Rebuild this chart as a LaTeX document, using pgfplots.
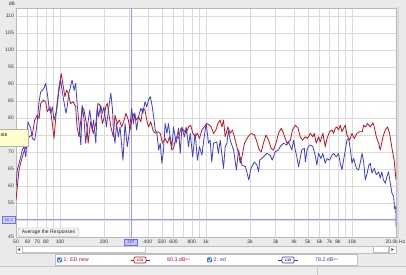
\documentclass[border=0pt]{standalone}
\usepackage{pgfplots}
\pgfplotsset{compat=1.18}
\usepackage{pgfplotstable}
\usepackage{fontspec}
\setmainfont{Liberation Sans}
\definecolor{bgc}{RGB}{234,234,234}
\definecolor{redc}{RGB}{200,16,24}
\definecolor{bluec}{RGB}{62,62,205}
\definecolor{curc}{RGB}{110,110,250}
\definecolor{curl}{RGB}{150,150,255}
\definecolor{gridc}{RGB}{218,218,218}
\definecolor{tipc}{RGB}{255,255,204}
\definecolor{chk}{RGB}{64,128,224}
\newcommand{\tf}{\fontsize{5}{6}\selectfont}
\newcommand{\lf}{\fontsize{5.3}{6}\selectfont}

\pgfplotstableread{
f db
50 55.9
52.4 64.7
55.2 68.6
58.3 71.6
61.4 74.5
64.7 75.0
67.1 79.4
69.9 80.9
71.9 79.9
73.8 84.3
76.9 85.3
79.8 84.8
81.9 81.9
85.5 83.3
88.7 78.4
91.0 74.0
95.0 83.3
98.5 89.2
102 93.1
105 89.7
108 86.3
111 88.2
114 87.3
118 84.3
123 84.8
128 83.3
131 77.4
135 74.5
139 79.4
142 83.3
146 82.4
153 77.4
156 72.6
162 78.9
169 75.5
176 78.4
182 84.3
188 83.8
195 78.4
200 79.9
206 83.3
211 84.3
223 77.4
232 74.5
238 80.9
247 78.4
255 79.4
265 77.4
275 79.4
283 81.4
294 79.4
302 76.5
310 79.4
322 81.4
332 79.4
345 80.4
358 78.9
370 82.9
382 82.4
393 79.4
404 77.4
419 78.9
433 76.5
449 75.5
466 76.0
486 75.5
503 72.6
525 74.0
545 72.6
562 74.5
584 70.6
599 71.1
624 74.5
648 74.0
674 77.0
701 76.5
732 75.5
759 77.4
786 77.9
813 75.5
843 74.5
874 75.5
902 74.0
937 76.5
972 77.4
1014 78.4
1057 77.9
1085 77.4
1126 75.5
1169 76.5
1206 78.4
1251 79.4
1285 77.4
1318 79.4
1353 74.5
1413 77.4
1465 75.5
1519 76.5
1585 73.5
1670 69.6
1716 66.7
1763 68.6
1835 72.6
1938 74.5
2040 75.5
2148 75.0
2232 73.0
2314 70.6
2390 70.1
2474 72.6
2573 75.0
2683 73.5
2796 71.1
2900 70.6
3012 72.6
3137 75.5
3275 77.0
3392 75.5
3582 72.6
3778 73.5
3912 76.5
4083 77.9
4271 77.0
4414 74.5
4582 73.5
4790 74.5
4952 74.0
5172 75.5
5392 74.5
5506 75.5
5686 72.6
5895 74.5
6048 73.0
6310 75.5
6555 71.6
6739 74.0
7012 76.0
7284 76.5
7472 75.5
7669 77.0
7880 77.4
8082 76.5
8300 77.9
8523 76.0
8750 77.0
8984 77.9
9228 75.0
9627 73.5
9984 75.5
10353 74.0
10803 75.5
11255 76.0
11752 76.0
12000 77.9
12370 77.4
12770 78.4
13325 77.4
13906 78.6
14192 77.4
14651 74.5
15200 72.6
15598 70.6
16283 74.5
16884 76.5
17500 77.4
18066 75.5
18762 71.1
19430 67.6
20000 61.8
}\redtab

\pgfplotstableread{
f db
50 59.8
51 64.7
53.2 67.6
55.2 70.6
56.7 71.6
58.3 68.6
59.3 72.6
60.4 78.9
63.0 77.0
64.7 74.0
67.1 73.5
69.3 77.4
71.9 84.8
73.8 87.7
77.6 88.7
79.8 90.2
81.9 87.3
84.3 82.9
86.6 81.4
88.7 83.3
91.0 79.4
95.0 82.4
98.5 88.2
101 91.2
105 86.3
110 81.4
112 83.3
115 87.3
118 89.2
121 91.2
125 88.2
128 90.2
131 84.3
135 78.4
139 72.1
142 83.8
146 79.9
150 72.6
154 77.4
160 82.4
166 76.5
170 79.4
176 72.6
180 83.3
184 80.4
190 83.8
195 81.4
200 83.3
208 77.4
216 83.3
223 87.3
229 82.4
232 76.5
238 72.6
244 78.4
251 74.5
258 77.4
270 67.6
279 78.4
289 71.6
298 75.5
310 82.9
318 78.4
326 81.4
335 76.5
345 80.4
358 82.9
370 81.4
382 84.8
393 83.3
404 85.3
415 86.3
427 83.8
438 80.4
449 76.5
461 75.5
474 70.6
486 72.6
499 66.7
512 70.6
525 78.4
540 75.5
553 78.4
568 74.5
584 71.6
599 77.4
624 72.6
648 77.0
666 69.6
684 77.4
711 74.5
732 77.4
759 71.6
780 75.5
810 68.6
843 75.5
874 67.6
902 71.6
937 69.1
972 74.5
1003 78.4
1040 72.6
1067 73.5
1095 67.1
1126 72.6
1185 73.0
1215 69.6
1251 73.5
1318 65.2
1353 71.6
1391 72.6
1423 76.5
1465 73.5
1545 70.6
1615 64.7
1670 70.6
1763 66.2
1863 65.7
1964 61.8
2032 65.2
2140 67.1
2232 66.2
2290 64.2
2333 67.6
2474 68.6
2610 69.6
2750 69.1
2840 67.6
2977 70.1
3137 70.6
3220 71.6
3392 72.6
3582 72.1
3673 73.0
3868 70.6
3981 73.5
4083 70.6
4190 68.6
4300 65.7
4414 68.1
4525 70.6
4715 71.1
4790 67.1
4920 70.6
5025 71.6
5172 72.1
5392 71.6
5590 69.1
5740 66.2
5895 69.6
6120 68.1
6310 69.6
6555 66.7
6739 68.1
7012 67.6
7284 69.1
7472 69.6
7820 68.6
8082 69.6
8300 66.7
8523 64.8
8750 67.6
9228 73.5
9475 74.0
9750 70.6
9984 66.7
10260 68.1
10710 65.2
11090 64.7
11410 67.1
11720 69.6
12000 67.1
12330 61.8
12690 63.8
13030 66.2
13325 66.7
13690 63.8
14192 65.2
14651 63.3
15200 64.2
15598 62.3
15980 64.2
16412 61.8
16884 60.8
17340 62.8
17783 64.2
18280 60.8
18762 57.9
19260 56.9
19560 53.4
19950 53.9
20000 48.1
}\bluetab

\begin{document}
\begin{tikzpicture}[x=1pt,y=1pt]
\useasboundingbox (0,0) rectangle (406,275);
\fill[bgc] (0,0) rectangle (406,275);
\fill[gray!30] (396,36) rectangle (399,267.5);
\begin{axis}[
  at={(16pt,38pt)}, anchor=south west,
  width=380pt, height=229pt, scale only axis,
  xmode=log, xmin=50, xmax=20000, ymin=45, ymax=112.4,
  axis background/.style={fill=white},
  axis line style={gray!55, line width=0.6pt},
  xtick={50,60,70,80,90,100,200,300,400,500,600,700,800,900,1000,2000,3000,4000,5000,6000,7000,8000,9000,10000,20000},
  xticklabels={50,60,70,80,,100,200,,400,500,600,,800,,1k,2k,3k,4k,5k,6k,7k,8k,,10k,},
  ytick={45,50,55,60,65,70,75,80,85,90,95,100,105,110},
  yticklabels={45,,55,60,65,70,75,80,85,90,95,100,105,110},
  major tick length=0pt,
  grid=major, major grid style={gridc, line width=0.6pt},
  tick label style={font=\tf, text=black!80},
  xticklabel style={inner sep=1pt, yshift=-1.5pt},
  yticklabel style={inner sep=1pt, xshift=-1pt},
]
\addplot[draw=curl, line width=1pt, mark=none, forget plot] coordinates {(50,50.2) (20000,50.2)};
\addplot[draw=curl, line width=1pt, mark=none, forget plot] coordinates {(307,45) (307,112.4)};
\addplot[draw=redc, line width=0.8pt, line join=round] table[x=f,y=db]{\redtab};
\addplot[draw=bluec, line width=0.8pt, line join=round] table[x=f,y=db]{\bluetab};
\end{axis}
% top labels
\node[font=\tf, text=black!80] at (12,271.5) {dB};
\node[font=\tf, text=black!80, anchor=east, inner sep=0pt] at (405.5,33) {20.0k Hz};
% cursor labels
\draw[curc, fill=curc!30] (2,52) rectangle (15.5,58.5);
\node[font=\fontsize{4.2}{5}\selectfont, text=bluec] at (8.75,55.2) {50.2};
\draw[curc, fill=curc!40] (124.5,30.2) rectangle (137.5,36);
\node[font=\fontsize{4.2}{5}\selectfont, text=bluec] at (131,33.1) {307};
% button
\draw[gray!60, fill=gray!10, rounded corners=2pt] (18,38.5) rectangle (79,47);
\node[font=\fontsize{5}{6}\selectfont, text=black!85] at (48.5,42.7) {Average the Responses};
% tooltip
\fill[gray!45] (0,128) rectangle (29,145);
\draw[gray!60, fill=tipc] (-1,129) rectangle (28,146);
\node[font=\lf, anchor=west, inner sep=0pt] at (0.5,140) {xis};
% scrollbar
\draw[gray!50, fill=gray!8] (16,22) rectangle (396,29);
\draw[gray!45, fill=white] (22,22.5) rectangle (145,28.5);
\draw[gray!50, fill=white] (373,22.5) rectangle (388,28.5);
\draw[gray!50, fill=white] (16,22) rectangle (22,29);
\fill[black!70] (17.6,25.5) -- (20.2,27) -- (20.2,24) -- cycle;
\draw[gray!50, fill=white] (389,22) rectangle (396,29);
\fill[black!70] (393.9,25.5) -- (391.3,27) -- (391.3,24) -- cycle;
% bottom toolbar
\fill[gray!14] (0,0) rectangle (406,8.5);
\draw[gray!45] (0,8.5) -- (406,8.5);
\draw[gray!45] (317,0) -- (317,8.5);
% legend box
\draw[gray!50, fill=white] (55,10) rectangle (357,20.5);
\fill[chk, rounded corners=0.8pt] (57,12.5) rectangle (62,17.5);
\draw[white, line width=0.6pt] (58,15.2) -- (59.3,13.6) -- (61.2,16.8);
\node[font=\lf, text=redc, anchor=west, inner sep=0pt] at (63.5,15) {1: ED new};
\draw[redc, line width=0.6pt] (131,15) -- (150,15);
\draw[redc, fill=white, rounded corners=1.2pt, line width=0.7pt] (134,12) rectangle (146,18);
\node[font=\fontsize{3.5}{4}\selectfont] at (140,15) {1/24};
\node[font=\lf, text=redc, anchor=west, inner sep=0pt] at (167,15) {80.3 dB\raisebox{1.3pt}{\fontsize{2.6}{3}\selectfont SPL}};
\fill[chk, rounded corners=0.8pt] (207,12.5) rectangle (212,17.5);
\draw[white, line width=0.6pt] (208,15.2) -- (209.3,13.6) -- (211.2,16.8);
\node[font=\lf, text=bluec, anchor=west, inner sep=0pt] at (213.5,15) {2: ed};
\draw[bluec, line width=0.6pt] (278,15) -- (298,15);
\draw[bluec, fill=white, rounded corners=1.2pt, line width=0.7pt] (282,12) rectangle (294,18);
\node[font=\fontsize{3.5}{4}\selectfont] at (288,15) {1/48};
\node[font=\lf, text=bluec, anchor=west, inner sep=0pt] at (315,15) {78.2 dB\raisebox{1.3pt}{\fontsize{2.6}{3}\selectfont SPL}};
\end{tikzpicture}
\end{document}
